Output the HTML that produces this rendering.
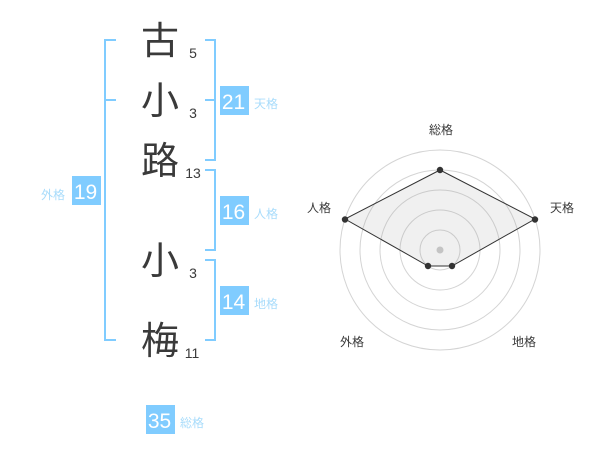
<!DOCTYPE html>
<html><head><meta charset="utf-8">
<style>
html,body{margin:0;padding:0;background:#fff;width:600px;height:470px;overflow:hidden}
svg{display:block}
text{font-family:"Liberation Sans","WenQuanYi Zen Hei","Noto Sans CJK JP",sans-serif}
.k{font-size:38px;fill:#3a3a3a;text-anchor:middle}
.n{font-size:14px;fill:#3a3a3a;text-anchor:middle}
.b{font-size:21px;fill:#fff;text-anchor:middle}
.l{font-size:12px;fill:#a8dcfb;text-anchor:middle}
.r{font-size:12px;fill:#3a3a3a;text-anchor:middle}
</style></head><body>
<svg width="600" height="470" viewBox="0 0 600 470" xmlns="http://www.w3.org/2000/svg">
<g fill="none" stroke="#80ccff" stroke-width="2">
<path d="M116 40H105V340H116M105 100H116"/>
<path d="M205 40H215V160H205M205 100H215"/>
<path d="M205 170H215V250H205"/>
<path d="M205 260H215V340H205"/>
</g>
<text class="k" x="160" y="54">古</text>
<text class="k" x="160" y="114">小</text>
<text class="k" x="160" y="174">路</text>
<text class="k" x="160" y="274">小</text>
<text class="k" x="160" y="354">梅</text>
<text class="n" x="193" y="58">5</text>
<text class="n" x="193" y="118">3</text>
<text class="n" x="193" y="178">13</text>
<text class="n" x="193" y="278">3</text>
<text class="n" x="192" y="358">11</text>
<g fill="#80ccff">
<rect x="220" y="86" width="29" height="29"/>
<rect x="220" y="196" width="29" height="29"/>
<rect x="220" y="286" width="29" height="29"/>
<rect x="72" y="176" width="29" height="29"/>
<rect x="146" y="405" width="29" height="29"/>
</g>
<text class="b" x="233.5" y="109">21</text>
<text class="b" x="233.5" y="219">16</text>
<text class="b" x="233.5" y="309">14</text>
<text class="b" x="85.5" y="199">19</text>
<text class="b" x="159.5" y="428">35</text>
<text class="l" x="266" y="108">天格</text>
<text class="l" x="266" y="218">人格</text>
<text class="l" x="266" y="308">地格</text>
<text class="l" x="53" y="199">外格</text>
<text class="l" x="192" y="427">総格</text>
<g fill="none" stroke="#d4d4d4" stroke-width="1">
<circle cx="440" cy="250" r="20"/>
<circle cx="440" cy="250" r="40"/>
<circle cx="440" cy="250" r="60"/>
<circle cx="440" cy="250" r="80"/>
<circle cx="440" cy="250" r="100"/>
</g>
<circle cx="440" cy="250" r="3.5" fill="#ccc"/>
<polygon points="440,170 535,219 452,266 428,266 345,219" fill="#999" fill-opacity=".15" stroke="#333" stroke-width="1"/>
<g fill="#333">
<circle cx="440" cy="170" r="3.2"/>
<circle cx="535" cy="219.5" r="3.2"/>
<circle cx="452" cy="266" r="3.2"/>
<circle cx="428" cy="266" r="3.2"/>
<circle cx="345" cy="219.5" r="3.2"/>
</g>
<text class="r" x="441" y="134">総格</text>
<text class="r" x="562" y="212">天格</text>
<text class="r" x="319" y="212">人格</text>
<text class="r" x="352" y="346">外格</text>
<text class="r" x="524" y="346">地格</text>
</svg>
</body></html>
